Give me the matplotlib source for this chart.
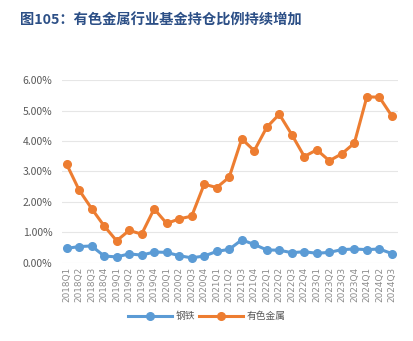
import numpy as np
import matplotlib.pyplot as plt
from matplotlib.ticker import FuncFormatter

plt.rcParams['font.family'] = ['Noto Sans CJK SC', 'DejaVu Sans']

quarters = [f"{y}Q{q}" for y in range(2018, 2025) for q in range(1, 5)][:27]
steel = [0.47, 0.53, 0.55, 0.22, 0.19, 0.29, 0.25, 0.35, 0.34, 0.23, 0.16, 0.22,
         0.37, 0.44, 0.75, 0.60, 0.42, 0.41, 0.33, 0.36, 0.31, 0.34, 0.43, 0.45,
         0.43, 0.45, 0.30]
metals = [3.24, 2.39, 1.78, 1.21, 0.72, 1.06, 0.94, 1.77, 1.29, 1.44, 1.53, 2.58,
          2.47, 2.81, 4.07, 3.68, 4.45, 4.88, 4.21, 3.49, 3.71, 3.35, 3.58, 3.93,
          5.45, 5.44, 4.82]

fig = plt.figure(figsize=(4.13, 3.41), dpi=100)
ax = fig.add_axes([0.150, 0.2296, 0.814, 0.5354])

x = np.arange(len(quarters))
ax.plot(x, steel, color="#5B9BD5", lw=2.2, marker="o", ms=5.5, label="钢铁")
ax.plot(x, metals, color="#ED7D31", lw=2.2, marker="o", ms=5.5, label="有色金属")

ax.set_ylim(0, 6)
ax.set_xlim(-0.37, 26.5)
ax.set_yticks(np.arange(0, 7, 1))
ax.yaxis.set_major_formatter(FuncFormatter(lambda v, p: f"{v:.2f}%"))
ax.set_xticks(x)
ax.set_xticklabels(quarters, rotation=90, fontsize=6.4, color="#8c8c8c",
                   family=['DejaVu Sans'])
ax.tick_params(axis="y", labelsize=7.5, colors="#595959", length=0, pad=7)
ax.tick_params(axis="x", length=0, pad=3)
ax.grid(axis="y", color="#e6e6e6", lw=0.8)
ax.set_axisbelow(True)
for s in ax.spines.values():
    s.set_visible(False)

fig.text(0.048, 0.94, "图105：有色金属行业基金持仓比例持续增加", fontsize=10.3,
         fontweight="bold", color="#2C4F86", va="center")

fig.legend(loc="center", bbox_to_anchor=(0.5, 0.073), ncol=2, frameon=False,
           fontsize=7, handlelength=4.6, columnspacing=0.4, handletextpad=0.3,
           labelcolor="#595959")

fig.savefig("out.png", dpi=100)
